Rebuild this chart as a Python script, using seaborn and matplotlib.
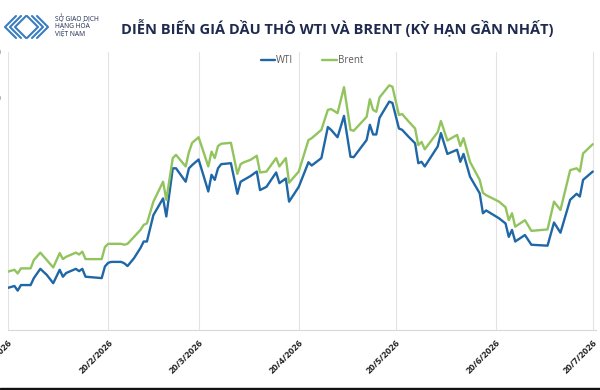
import pandas as pd
import numpy as np
import matplotlib
matplotlib.use("Agg")
import matplotlib.pyplot as plt
import matplotlib.dates as mdates
from matplotlib.lines import Line2D
from matplotlib.patches import Rectangle
import seaborn as sns

# du lieu doc tu bieu do (USD/thung)
ngay = ['2026-01-20', '2026-01-22', '2026-01-23', '2026-01-24', '2026-01-27', '2026-01-28',
        '2026-01-30', '2026-02-01', '2026-02-03', '2026-02-05', '2026-02-06', '2026-02-07',
        '2026-02-10', '2026-02-11', '2026-02-12', '2026-02-13', '2026-02-18', '2026-02-19',
        '2026-02-20', '2026-02-21', '2026-02-24', '2026-02-25', '2026-02-26', '2026-02-28',
        '2026-03-02', '2026-03-03', '2026-03-04', '2026-03-06', '2026-03-09', '2026-03-10',
        '2026-03-12', '2026-03-13', '2026-03-16', '2026-03-17', '2026-03-18', '2026-03-20',
        '2026-03-23', '2026-03-24', '2026-03-25', '2026-03-26', '2026-03-27', '2026-03-30',
        '2026-04-01', '2026-04-02', '2026-04-03', '2026-04-05', '2026-04-07', '2026-04-08',
        '2026-04-10', '2026-04-13', '2026-04-14', '2026-04-16', '2026-04-17', '2026-04-20',
        '2026-04-23', '2026-04-24', '2026-04-27', '2026-04-29', '2026-04-30', '2026-05-02',
        '2026-05-04', '2026-05-06', '2026-05-07', '2026-05-11', '2026-05-12', '2026-05-13',
        '2026-05-14', '2026-05-15', '2026-05-18', '2026-05-19', '2026-05-21', '2026-05-22',
        '2026-05-24', '2026-05-26', '2026-05-27', '2026-05-28', '2026-05-29', '2026-06-02',
        '2026-06-03', '2026-06-05', '2026-06-08', '2026-06-09', '2026-06-10', '2026-06-12',
        '2026-06-15', '2026-06-16', '2026-06-17', '2026-06-21', '2026-06-23', '2026-06-24',
        '2026-06-25', '2026-06-26', '2026-06-29', '2026-07-01', '2026-07-06', '2026-07-08',
        '2026-07-10', '2026-07-13', '2026-07-15', '2026-07-16', '2026-07-17', '2026-07-20']

wti = [59.1, 59.5, 58.5, 59.7, 59.7, 61.2, 63.2, 61.9, 60.1, 63.0, 61.5, 62.3,
       63.2, 62.7, 63.2, 61.5, 61.2, 63.7, 64.5, 64.7, 64.7, 64.4, 63.8, 65.5,
       67.7, 69.1, 69.1, 74.8, 78.4, 74.5, 84.9, 84.9, 82.0, 84.9, 85.6, 86.8,
       79.9, 83.5, 82.4, 84.9, 85.8, 86.0, 79.4, 82.0, 82.4, 83.2, 84.2, 80.2,
       80.9, 84.0, 81.7, 82.7, 77.7, 80.9, 86.2, 85.5, 87.1, 93.8, 93.2, 91.6,
       96.2, 87.4, 87.3, 91.0, 94.3, 92.2, 92.2, 95.8, 99.3, 99.0, 93.5, 93.2,
       91.7, 90.3, 86.0, 86.3, 85.3, 89.6, 92.5, 88.0, 88.9, 86.3, 88.0, 83.1,
       79.5, 75.2, 75.8, 74.1, 73.0, 70.1, 71.6, 69.1, 70.5, 68.4, 68.2, 73.2,
       71.0, 78.1, 79.4, 78.8, 82.4, 84.2]

brent = [62.6, 63.0, 62.2, 63.3, 63.3, 65.1, 66.7, 65.1, 63.5, 66.6, 65.3, 65.8,
         66.7, 66.3, 66.9, 65.3, 65.3, 67.9, 68.6, 68.6, 68.6, 68.4, 68.6, 70.1,
         71.6, 72.7, 73.0, 77.7, 82.0, 78.1, 87.1, 87.8, 85.3, 88.4, 90.4, 91.6,
         85.3, 88.5, 87.1, 89.7, 90.2, 90.4, 83.7, 85.8, 86.2, 86.7, 87.6, 84.0,
         84.2, 87.1, 85.3, 87.1, 81.8, 84.2, 91.0, 91.4, 93.2, 97.5, 97.7, 96.8,
         102.4, 93.2, 93.0, 96.0, 99.8, 97.5, 97.1, 100.2, 102.8, 102.5, 96.4, 96.6,
         95.0, 93.5, 89.9, 90.6, 89.0, 92.7, 95.1, 90.9, 92.1, 89.7, 91.4, 86.3,
         82.4, 79.6, 79.1, 77.7, 76.5, 73.7, 75.2, 72.3, 73.7, 71.4, 71.7, 77.7,
         75.9, 84.5, 84.9, 84.2, 88.1, 90.1]

nhan_truc_y = [50, 60, 70, 80, 90, 100, 110]
moc_truc_x = ['2026-01-20', '2026-02-20', '2026-03-20', '2026-04-20',
              '2026-05-20', '2026-06-20', '2026-07-20']

df = pd.DataFrame({'Ngày': pd.to_datetime(ngay), 'WTI': wti, 'Brent': brent})
df_long = df.melt(id_vars='Ngày', var_name='Loại', value_name='Giá')

sns.set_theme(style='white')
plt.rcParams['font.family'] = ['Open Sans', 'DejaVu Sans']

fig = plt.figure(figsize=(6, 3.9), dpi=100)
ax = fig.add_axes([8 / 600, 60 / 390, 588 / 600, 278 / 390])

sns.lineplot(data=df_long, x='Ngày', y='Giá', hue='Loại',
             palette={'WTI': '#1f67a6', 'Brent': '#92c45e'},
             linewidth=1.7, ax=ax)

ax.set_xlim(pd.Timestamp('2026-01-20'), pd.Timestamp('2026-07-21'))
ax.set_ylim(50, 110)
ax.set_yticks(nhan_truc_y)
# nhan truc y bi cat o mep trai giong anh goc
ax.set_yticklabels([str(v) for v in nhan_truc_y], fontsize=7, color='#222222')
ax.tick_params(axis='y', length=0, pad=5)

moc = pd.to_datetime(moc_truc_x)
ax.set_xticks(moc)
ax.set_xticklabels([f'{d.day}/{d.month}/{d.year}' for d in moc],
                   rotation=45, ha='right', va='top', rotation_mode='anchor',
                   fontsize=6.5, fontweight='bold', color='#222222')
ax.tick_params(axis='x', length=0, pad=6)
ax.grid(axis='x', color='#e3e3e3', linewidth=0.8)
ax.grid(axis='y', visible=False)
ax.set_xlabel('')
ax.set_ylabel('')

for s in ['top', 'right', 'left']:
    ax.spines[s].set_visible(False)
ax.spines['bottom'].set_color('#d9d9d9')
ax.spines['bottom'].set_linewidth(0.8)

sns.move_legend(ax, 'center', bbox_to_anchor=(0.52, 0.845),
                bbox_transform=fig.transFigure, ncol=2, title=None,
                frameon=False, fontsize=7, handlelength=1.5,
                handletextpad=0.1, columnspacing=3.0)
for t in ax.get_legend().get_texts():
    t.set_color('#595959')

# tieu de
fig.text(0.562, 0.928, 'DIỄN BIẾN GIÁ DẦU THÔ WTI VÀ BRENT (KỲ HẠN GẦN NHẤT)',
         ha='center', va='center', fontsize=10.5, fontweight='bold', color='#1f2a4f')

# logo
def px(x, y):
    return x / 600, 1 - y / 390

for i in range(3):
    xs, ys = zip(px(16 + 5 * i, 16), px(5 + 5 * i, 27), px(16 + 5 * i, 38))
    fig.add_artist(Line2D(xs, ys, color='#3a7cc0', linewidth=1.5))
    xs, ys = zip(px(37 - 5 * i, 16), px(48 - 5 * i, 27), px(37 - 5 * i, 38))
    fig.add_artist(Line2D(xs, ys, color='#3a7cc0', linewidth=1.5))

for k, dong in enumerate(['SỞ GIAO DỊCH', 'HÀNG HÓA', 'VIỆT NAM']):
    fig.text(55 / 600, 1 - (19 + 7 * k) / 390, dong, fontsize=4.8,
             color='#1f2a4f', ha='left', va='center')

fig.add_artist(Rectangle((0, 0), 1, 2.5 / 390, transform=fig.transFigure,
                         color='#111111'))

fig.savefig('out.png', dpi=100)
